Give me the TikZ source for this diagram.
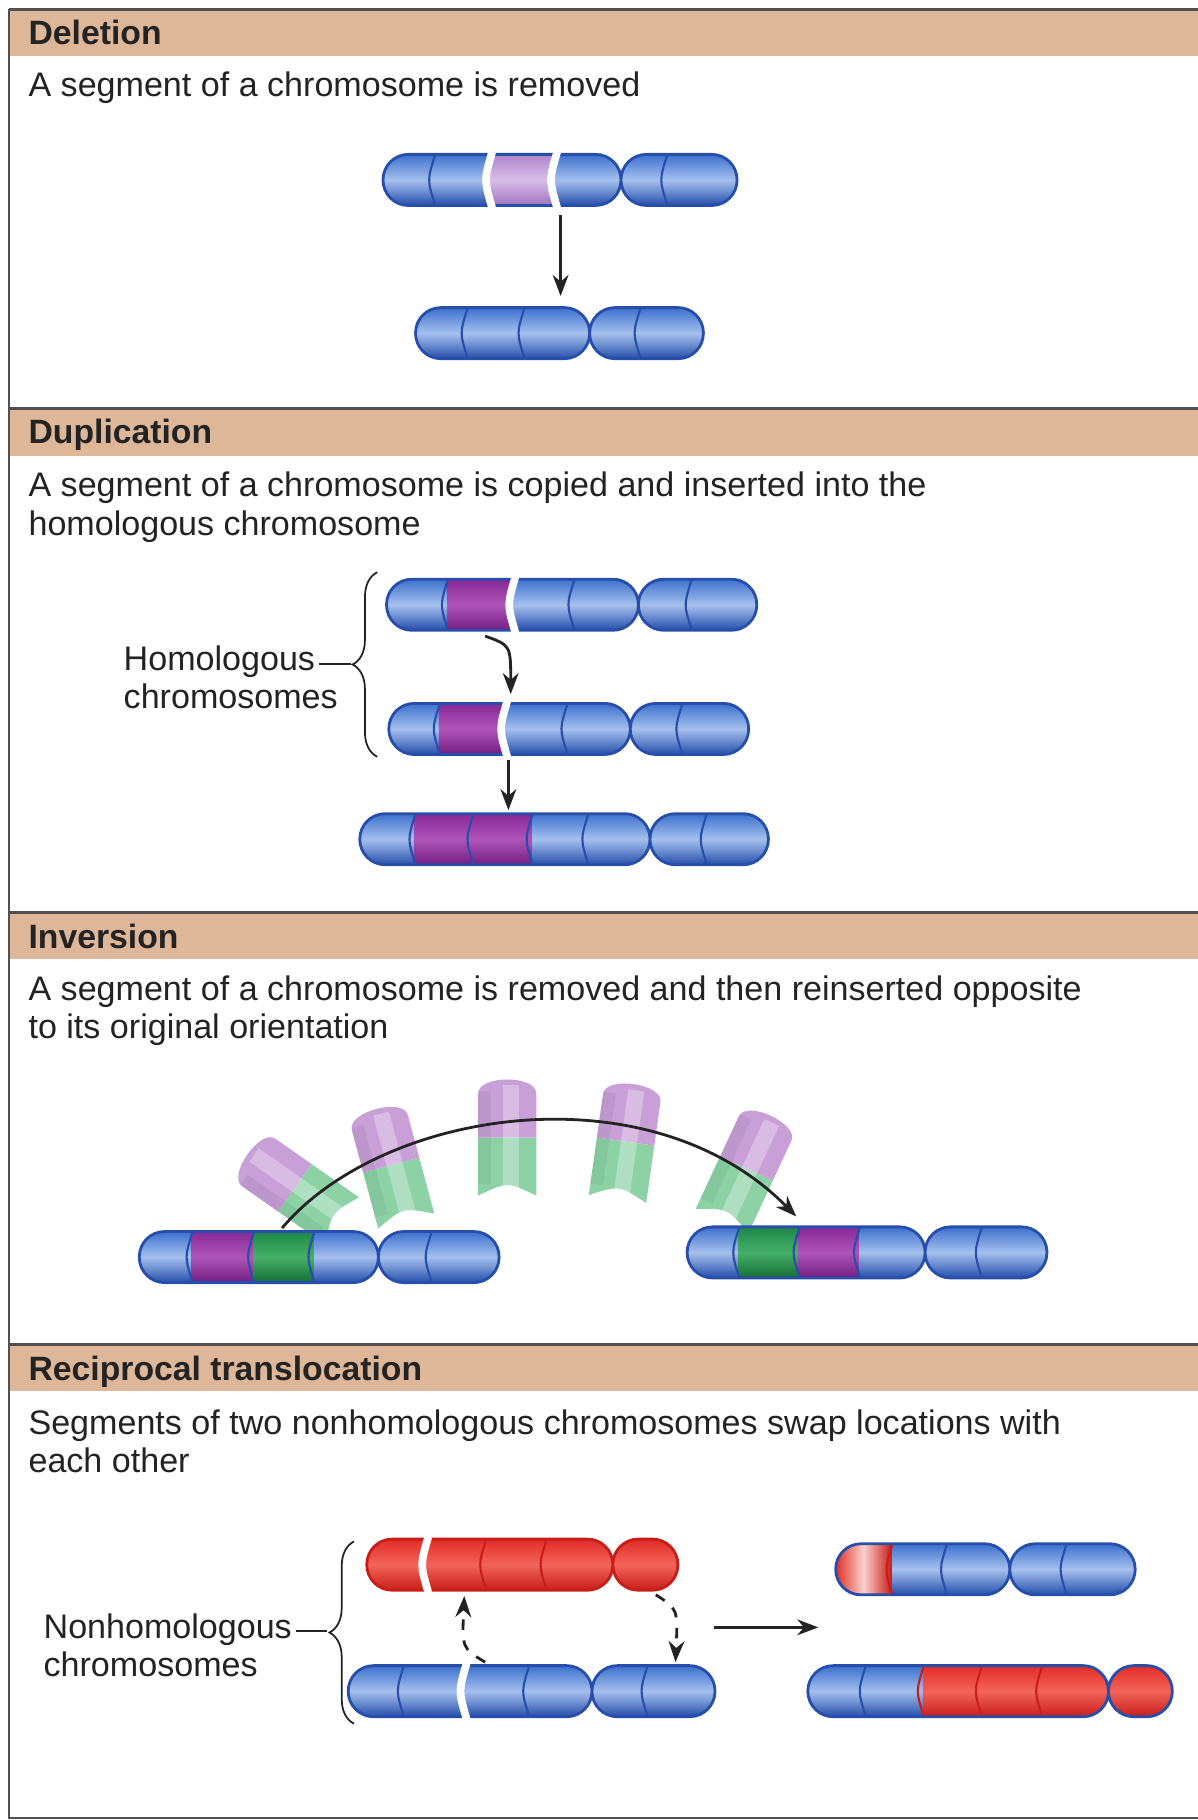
\documentclass[tikz,border=0pt]{standalone}
\usepackage{fontspec}
\setmainfont{Liberation Sans}
\usetikzlibrary{arrows.meta,decorations.pathreplacing}
\definecolor{hdr}{RGB}{222,182,152}
\definecolor{bl}{RGB}{60,112,205}
\definecolor{blD}{RGB}{38,78,170}
\definecolor{blL}{RGB}{165,192,238}
\definecolor{txt}{RGB}{35,35,35}
\definecolor{rdD}{RGB}{200,30,25}
\definecolor{rdT}{RGB}{225,45,38}
\definecolor{rdM}{RGB}{242,100,90}
\definecolor{rdL}{RGB}{250,210,205}
\definecolor{plT}{RGB}{175,135,205}
\definecolor{plB}{RGB}{160,115,190}
\definecolor{plM}{RGB}{215,190,232}
\definecolor{pdT}{RGB}{135,40,150}
\definecolor{pdB}{RGB}{115,30,130}
\definecolor{pdM}{RGB}{175,85,185}
\definecolor{gdT}{RGB}{30,135,72}
\definecolor{gdB}{RGB}{22,110,55}
\definecolor{gdM}{RGB}{70,175,105}
\definecolor{gpc}{RGB}{140,210,165}
\definecolor{ppc}{RGB}{200,160,215}
\definecolor{frm}{RGB}{80,80,80}
\tikzset{
 shB/.style={top color=bl, bottom color=blD, middle color=blL},
 shR/.style={top color=rdT, bottom color=rdD, middle color=rdM},
 shPl/.style={top color=plT, bottom color=plB, middle color=plM},
 shPd/.style={top color=pdT, bottom color=pdB, middle color=pdM},
 shG/.style={top color=gdT, bottom color=gdB, middle color=gdM},
 shRl/.style={left color=rdT, right color=rdD, middle color=rdL},
 dv/.style={draw=blD, line width=0.6pt},
 dvR/.style={draw=rdD, line width=0.6pt},
 wg/.style={draw=white, line width=2.2pt},
 hd/.style={font=\fontsize{9.6}{11}\selectfont\bfseries, text=txt, anchor=base west, inner sep=0},
 tx/.style={font=\fontsize{9.7}{10.9}\selectfont, text=txt, anchor=base west, inner sep=0, align=left},
 arr/.style={-{Stealth[length=6pt,width=4.5pt]}, line width=0.8pt, draw=txt},
 frame/.style={draw=frm, line width=0.6pt},
 brc/.style={decorate, decoration={brace,amplitude=7pt}, draw=txt, line width=0.5pt},
}
% \chrom[base]{y}{x1}{xp}{x2}{outline}{extras}
\newcommand\chrom[7][shB]{%
 \begin{scope}
 \clip[rounded corners=7.2pt] (#3,#2-22) rectangle (#4,#2+22) (#4,#2-22) rectangle (#5,#2+22);
 \fill[#1] (#3,#2-22) rectangle (#5,#2+22);
 #7
 \end{scope}
 \draw[draw=#6, line width=0.8pt, rounded corners=7.2pt] (#3,#2-22) rectangle (#4,#2+22) (#4,#2-22) rectangle (#5,#2+22);
}
\newcommand\dvl[3][dv]{\draw[#1] (#2,#3-22) .. controls (#2-7,#3) .. (#2,#3+22);}
\newcommand\wgp[2]{\draw[wg] (#1,#2-24) .. controls (#1-7,#2) .. (#1,#2+24);}
\newcommand\sg[4]{\fill[#1] (#2,#4-22) rectangle (#3,#4+22);}
\newcommand\piece[3]{%
 \begin{scope}[shift={(#1,#2)},rotate=#3]
 \fill[gpc] (-25,0) .. controls (0,-12) .. (25,0) -- (25,-50) -- (-25,-50) -- cycle;
 \fill[ppc] (-25,-50) -- (25,-50) -- (25,-88) .. controls (25,-104) and (-25,-104) .. (-25,-88) -- cycle;
 \fill[white,opacity=.3] (-4,-6) rectangle (10,-95);
 \fill[black,opacity=.05] (-25,-10) rectangle (-14,-90);
 \end{scope}}
\begin{document}
\begin{tikzpicture}[x=0.011609cm,y=-0.011609cm]
\useasboundingbox (0,0) rectangle (1032,1568);
% headers
\foreach \a/\b in {8/48,352/393,786/826,1158/1198}{
 \fill[hdr] (8,\a) rectangle (1032,\b);
 \draw[frame,line width=0.9pt] (8,\a) -- (1032,\a);}
\draw[frame] (8,8) -- (8,1566) -- (1032,1566);
\node[hd] (h1) at (24,38) {Deletion};
\node[hd] (h2) at (24,382) {Duplication};
\node[hd] (h3) at (24,817) {Inversion};
\node[hd] (h4) at (24,1189) {Reciprocal translocation};
\node[tx] (t1) at (24,83) {A segment of a chromosome is removed};
\node[tx] (t2) at (24,461) {A segment of a chromosome is copied and inserted into the\\homologous chromosome};
\node[tx] (t3) at (24,895) {A segment of a chromosome is removed and then reinserted opposite\\to its original orientation};
\node[tx] (t4) at (24,1269) {Segments of two nonhomologous chromosomes swap locations with\\each other};
% Deletion
\chrom{155}{330}{535}{635}{blD}{\sg{shPl}{422}{478}{155}\dvl{375}{155}\dvl{575}{155}}
\wgp{424}{155}\wgp{480}{155}
\chrom{287}{358}{508}{606}{blD}{\dvl{403}{287}\dvl{452}{287}\dvl{552}{287}}
\coordinate (d1) at (483,185); \coordinate (d2) at (483,255);
\draw[arr] (d1) -- (d2);
% Duplication
\chrom{521}{333}{550}{652}{blD}{\sg{shPd}{385}{442}{521}\dvl{386}{521}\dvl{495}{521}\dvl{596}{521}}
\wgp{444}{521}
\chrom{628}{335}{543}{645}{blD}{\sg{shPd}{378}{435}{628}\dvl{379}{628}\dvl{489}{628}\dvl{588}{628}}
\wgp{437}{628}
\chrom{723}{310}{560}{662}{blD}{\sg{shPd}{357}{458}{723}\dvl{358}{723}\dvl{408}{723}\dvl{459}{723}\dvl{507}{723}\dvl{609}{723}}
\coordinate (a1) at (418,548); \coordinate (a2) at (440,598);
\draw[arr] (a1) .. controls (440,556) .. (a2);
\coordinate (b1) at (438,655); \coordinate (b2) at (438,698);
\draw[arr] (b1) -- (b2);
\draw[brc] (325,652) -- (325,493);
\coordinate (bt1) at (302,572);
\node[tx] (hm1) at (106,578) {Homologous};
\node[tx] (hm2) at (106,610) {chromosomes};
\draw[txt,line width=0.5pt] ([xshift=1pt]hm1.east |- bt1) -- (bt1);
% Inversion
\piece{295}{1052}{55}
\piece{350}{1052}{15}
\piece{437}{1030}{0}
\piece{532}{1033}{-8}
\piece{622}{1052}{-25}
\chrom{1083}{120}{326}{430}{blD}{\sg{shPd}{165}{218}{1083}\sg{shG}{218}{270}{1083}\dvl{166}{1083}\dvl{219}{1083}\dvl{271}{1083}\dvl{372}{1083}}
\chrom{1079}{592}{797}{902}{blD}{\sg{shG}{636}{688}{1079}\sg{shPd}{688}{740}{1079}\dvl{637}{1079}\dvl{689}{1079}\dvl{741}{1079}\dvl{846}{1079}}
\coordinate (c1) at (243,1058); \coordinate (c2) at (686,1048);
\draw[arr] (c1) .. controls (330,955) and (560,920) .. (c2);
% Reciprocal translocation
\chrom[shR]{1348}{316}{528}{584}{rdD}{\dvl[dvR]{419}{1348}\dvl[dvR]{471}{1348}}
\wgp{369}{1348}
\chrom{1457}{300}{510}{616}{blD}{\dvl{348}{1457}\dvl{456}{1457}\dvl{558}{1457}}
\wgp{402}{1457}
\coordinate (e1) at (418,1432); \coordinate (e2) at (400,1375);
\draw[arr,dashed] (e1) .. controls (398,1420) .. (e2);
\coordinate (f1) at (565,1374); \coordinate (f2) at (582,1432);
\draw[arr,dashed] (f1) .. controls (584,1386) .. (f2);
\draw[brc] (305,1485) -- (305,1328);
\coordinate (bt2) at (282,1405);
\node[tx] (nh1) at (37,1412) {Nonhomologous};
\node[tx] (nh2) at (37,1444) {chromosomes};
\draw[txt,line width=0.5pt] ([xshift=1pt]nh1.east |- bt2) -- (bt2);
\coordinate (g1) at (615,1402); \coordinate (g2) at (705,1402);
\draw[arr] (g1) -- (g2);
\chrom{1352}{720}{870}{978}{blD}{\sg{shRl}{720}{768}{1352}\dvl[dvR]{769}{1352}\dvl{816}{1352}\dvl{919}{1352}}
\chrom{1457}{696}{955}{1010}{blD}{\sg{shR}{795}{1010}{1457}\dvl{746}{1457}\dvl[dvR]{796}{1457}\dvl[dvR]{846}{1457}\dvl[dvR]{898}{1457}}
\end{tikzpicture}
\end{document}
